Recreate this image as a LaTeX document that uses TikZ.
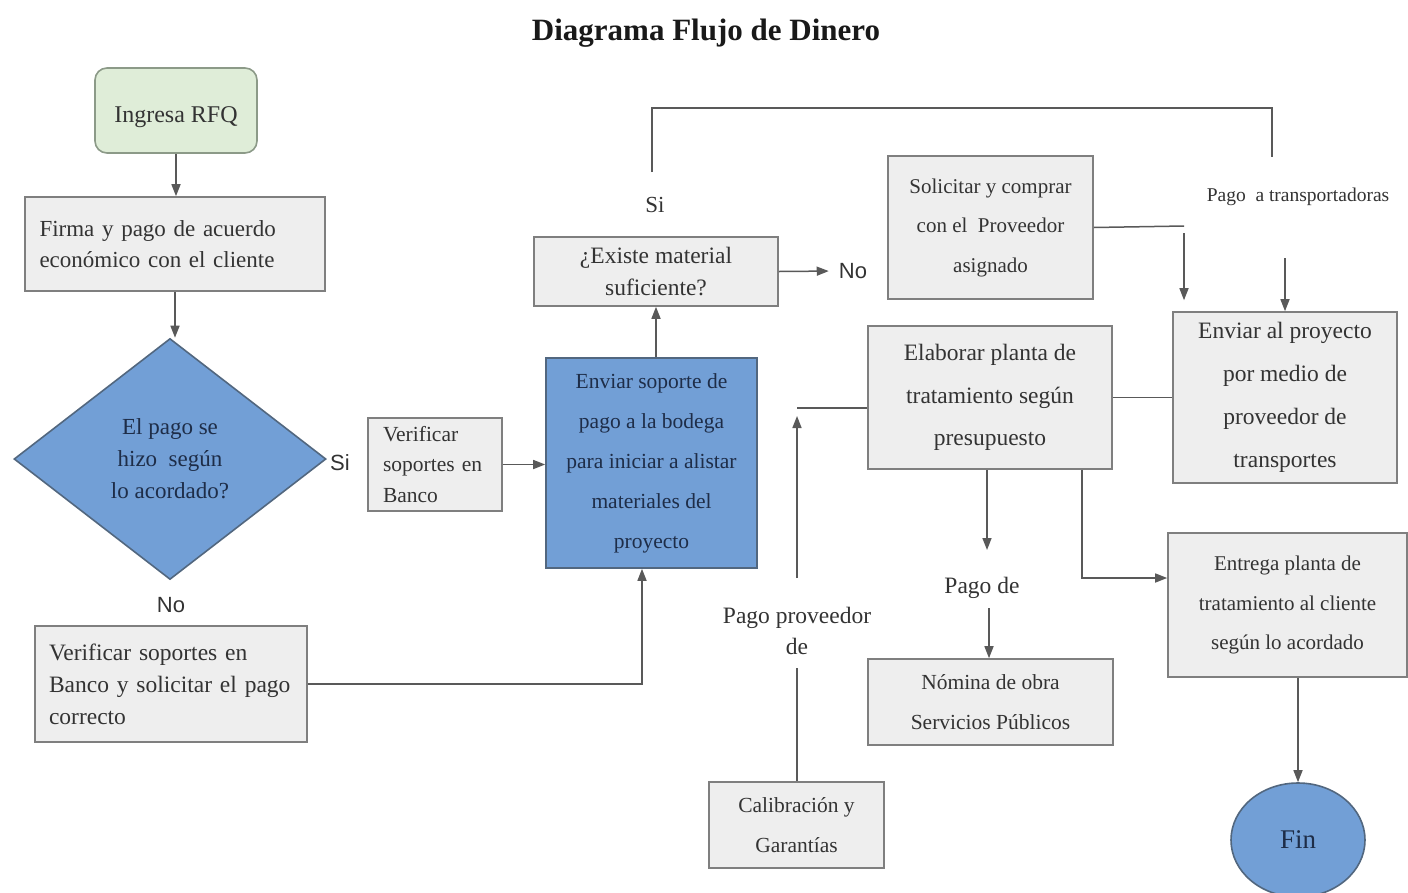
\documentclass[tikz,border=0pt]{standalone}
\usepackage{fontspec}
\setmainfont{Liberation Serif}
\newfontfamily\lsans{Liberation Sans}
\usetikzlibrary{arrows.meta,shapes.geometric}

\definecolor{boxfill}{HTML}{EEEEEE}
\definecolor{boxline}{HTML}{7F7F7F}
\definecolor{bluefill}{HTML}{729FD6}
\definecolor{blueline}{HTML}{52677F}
\definecolor{greenfill}{HTML}{DFEDD8}
\definecolor{greenline}{HTML}{8C9A88}
\definecolor{txt}{HTML}{333333}
\definecolor{bluetxt}{HTML}{1E2D48}
\definecolor{wire}{HTML}{595959}

\newcommand\fsz[2]{\fontsize{#1}{#2}\selectfont}

\tikzset{
  box/.style={draw=boxline, fill=boxfill, line width=1.6pt, text=txt, inner sep=0pt, align=center},
  bluebox/.style={draw=blueline, fill=bluefill, line width=1.6pt, text=bluetxt, inner sep=0pt, align=center},
  startbox/.style={draw=greenline, fill=greenfill, line width=1.6pt, rounded corners=12pt, text=txt, inner sep=0pt, align=center},
  decision/.style={diamond, draw=blueline, fill=bluefill, line width=1.6pt, text=bluetxt, inner sep=0pt, align=center},
  lbl/.style={text=txt, inner sep=2pt, align=center},
  sanslbl/.style={text=txt, inner sep=2pt, font=\lsans\fsz{22}{26}},
  wireline/.style={draw=wire, line width=1.5pt},
  arr/.style={draw=wire, line width=1.5pt, -{Triangle[length=12pt,width=9pt]}}
}

\begin{document}
\begin{tikzpicture}[x=1pt,y=-1pt]
\useasboundingbox (0,0) rectangle (1408,892);
\fill[white] (0,0) rectangle (1408,892);

% title
\node[font=\fsz{31}{36}\bfseries, text=black!90] (title) at (706,33) {Diagrama Flujo de Dinero};

% left column
\node[startbox, minimum width=162pt, minimum height=85pt, text height=23pt, text depth=0pt, font=\fsz{24}{30}] (rfq) at (176,110.5) {Ingresa RFQ};
\node[box, align=left, text width=271pt, inner xsep=14.5pt, minimum height=94pt, font=\fsz{23}{31}] (firma) at (175,244)
  {Firma y pago de acuerdo\\económico con el cliente};
\node[decision, minimum width=312pt, minimum height=241pt, font=\fsz{23}{32}] (dia) at (170,459)
  {El pago se\\hizo\ \ según\\lo acordado?};
\node[sanslbl] (si1) at (340,463) {Si};
\node[sanslbl] (no1) at (171,605) {No};
\node[box, align=left, text width=244pt, inner xsep=14pt, minimum height=116pt, font=\fsz{23.5}{32}] (vsc) at (171,684)
  {Verificar soportes en\\Banco y solicitar el pago\\correcto};

% middle
\node[box, align=left, text width=104pt, inner xsep=15pt, minimum height=93pt, font=\fsz{21.5}{30.5}] (vsb) at (435,464.5)
  {Verificar\\soportes en\\Banco};
\node[bluebox, minimum width=211pt, minimum height=210pt, font=\fsz{21.5}{40}] (env) at (651.5,463)
  {Enviar soporte de\\pago a la bodega\\para iniciar a alistar\\materiales del\\proyecto};
\node[box, minimum width=244pt, minimum height=69pt, font=\fsz{23.5}{32}] (exi) at (656,271.5)
  {¿Existe material\\suficiente?};
\node[sanslbl] (no2) at (853,271) {No};
\node[lbl, font=\fsz{23}{28}] (si2) at (655,205) {Si};

% right part
\node[box, minimum width=205pt, minimum height=143pt, font=\fsz{21}{39.5}] (sol) at (990.5,227.5)
  {Solicitar y comprar\\con el\ \ Proveedor\\asignado};
\node[lbl, font=\fsz{19.5}{22}] (ptr) at (1298,197) {Pago\ \ a transportadoras};
\node[box, minimum width=224pt, minimum height=171pt, font=\fsz{23.5}{43}] (eap) at (1285,397.5)
  {Enviar al proyecto\\por medio de\\proveedor de\\transportes};
\node[box, minimum width=244pt, minimum height=143pt, font=\fsz{23.5}{42.5}] (ela) at (990,397.5)
  {Elaborar planta de\\tratamiento según\\presupuesto};
\node[lbl, font=\fsz{23.5}{31}] (ppd) at (797,631) {Pago proveedor\\de};
\node[box, minimum width=175pt, minimum height=86pt, font=\fsz{21.5}{40}] (cal) at (796.5,825)
  {Calibración y\\Garantías};
\node[lbl, font=\fsz{23.5}{28}] (pd) at (982,588) {Pago de};
\node[box, minimum width=245pt, minimum height=86pt, font=\fsz{21.5}{40}] (nom) at (990.5,702)
  {Nómina de obra\\Servicios Públicos};
\node[box, minimum width=239pt, minimum height=144pt, font=\fsz{21}{39.5}] (ent) at (1287.5,605)
  {Entrega planta de\\tratamiento al cliente\\según lo acordado};
\node[bluebox, ellipse, minimum width=134pt, minimum height=114pt, font=\fsz{27}{30}] (fin) at (1298,840) {Fin};

% connector corners and free ends
\coordinate (k0) at (652,172);
\coordinate (tr) at (1272,108);
\coordinate (te) at (1272,157);
\coordinate (k1) at (1184,226);
\coordinate (k1b) at (1184,233);
\coordinate (k5) at (1285,258);
\coordinate (k2) at (797,408);
\coordinate (k2b) at (797,578);
\coordinate (k6) at (797,668);
\coordinate (k7) at (987,550);
\coordinate (k8) at (989,608);
\coordinate (k3) at (1082,578);
\coordinate (k4) at (642,684);

% connectors
\draw[arr] (rfq.south) -- (rfq.south |- firma.north);
\draw[arr] (firma.south) -- (firma.south |- dia.north);
\draw[arr] (vsb.east) -- (vsb.east -| env.west);
\draw[arr] (vsc.east) -- (k4) -- (k4 |- env.south);
\draw[arr] (exi.south |- env.north) -- (exi.south);
\draw[arr, shorten >=8pt] (exi.east) -- (no2.west);
\draw[wireline] (k0) |- (tr) -- (te);
\draw[arr] (k5) -- (k5 |- eap.north);
\draw[wireline] (sol.east) -- (k1);
\draw[arr, shorten >=11pt] (k1b) -- (k1b |- eap.north);
\draw[wireline] (ela.east) -- (eap.west);
\draw[wireline] (k2 -| ela.west) -- (k2);
\draw[arr, shorten >=8pt] (k2b) -- (k2);
\draw[wireline] (k6) -- (k6 |- cal.north);
\draw[arr] (k7 |- ela.south) -- (k7);
\draw[arr] (k8) -- (k8 |- nom.north);
\draw[arr] (k3 |- ela.south) -- (k3) -- (k3 -| ent.west);
\draw[arr] (ent.south -| fin.north) -- (fin.north);
\end{tikzpicture}
\end{document}
